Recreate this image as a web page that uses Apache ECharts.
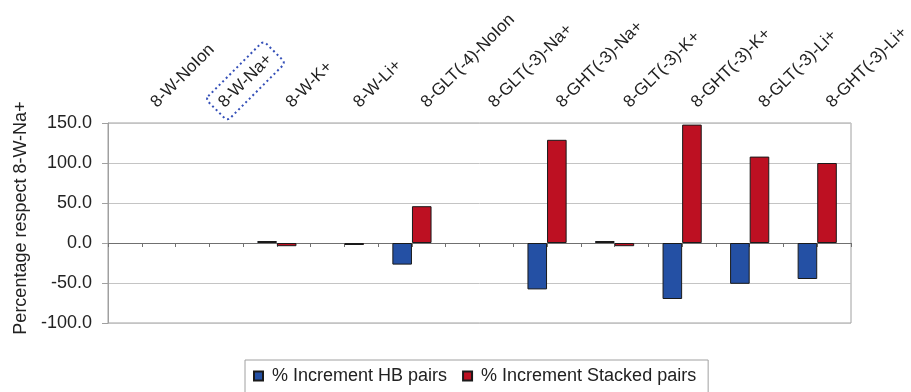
<!DOCTYPE html>
<html>
<head>
<meta charset="utf-8">
<script src="https://cdn.jsdelivr.net/npm/echarts@6/dist/echarts.min.js"></script>
<style>html,body{margin:0;padding:0;background:#fff;}#c{width:911px;height:392px;}</style>
</head>
<body>
<div id="c"></div>
<script>
var categories = ['8-W-NoIon','8-W-Na+','8-W-K+','8-W-Li+','8-GLT(-4)-NoIon','8-GLT(-3)-Na+','8-GHT(-3)-Na+','8-GLT(-3)-K+','8-GHT(-3)-K+','8-GLT(-3)-Li+','8-GHT(-3)-Li+'];
var hbPairs = [null, null, 2.5, null, -27, null, -58, 2.5, -70, -51, -45];
var stackedPairs = [null, null, -4, -2.5, 46, null, 129, -4, 148, 108, 100];
var yTicks = [-100, -50, 0, 50, 100, 150];
var seriesNames = ['% Increment HB pairs', '% Increment Stacked pairs'];
var highlighted = '8-W-Na+';

var FONT = "'Liberation Sans', Arial, sans-serif";
var FS = 18;
var CFS = 17;
var halfTicks = [];
for (var i = 0; i < categories.length * 2; i++) halfTicks.push('');

var chart = echarts.init(document.getElementById('c'), null, {renderer: 'canvas'});
chart.setOption({
  animation: false,
  backgroundColor: '#fff',
  textStyle: {fontFamily: FONT},
  grid: {left: 108, top: 123, right: 60, bottom: 69, show: true, borderColor: '#a0a0a0', borderWidth: 1,
         backgroundColor: 'transparent', outerBoundsMode: 'none', containLabel: false},
  legend: {
    left: 245, top: 360,
    data: seriesNames,
    icon: 'rect', itemWidth: 9, itemHeight: 9, itemGap: 15,
    borderColor: '#a0a0a0', borderWidth: 1,
    padding: [7, 12, 30, 8],
    textStyle: {fontFamily: FONT, fontSize: FS, color: '#222', padding: [0, 0, 0, 4]}
  },
  xAxis: [{
    type: 'category', data: categories, position: 'top',
    axisLine: {show: false, onZero: false}, axisTick: {show: false},
    splitLine: {show: false},
    axisLabel: {
      interval: 0, rotate: -45, margin: 6, fontFamily: FONT, fontSize: CFS, color: '#222',
      padding: [0, 0, 0, 10],
      formatter: function (v) { return v === highlighted ? '{box|' + v + '}' : '{n|' + v + '}'; },
      rich: {
        n: {fontFamily: FONT, fontSize: CFS, color: '#222', padding: [7, 7, 7, 7]},
        box: {fontFamily: FONT, fontSize: CFS, color: '#222', padding: [7, 7, 7, 7],
              borderColor: '#3550b8', borderWidth: 2, borderType: [2, 3], borderRadius: 4}
      }
    }
  }, {
    type: 'category', data: halfTicks, position: 'bottom', boundaryGap: true,
    axisLine: {show: true, onZero: true, onZeroAxisIndex: 0, lineStyle: {color: '#707070', width: 1}},
    axisTick: {show: true, interval: 0, length: 4, lineStyle: {color: '#707070'}},
    axisLabel: {show: false}, splitLine: {show: false}
  }],
  yAxis: {
    type: 'value', min: yTicks[0], max: yTicks[yTicks.length - 1], interval: 50,
    name: 'Percentage respect 8-W-Na+', nameLocation: 'middle', nameGap: 78,
    nameTextStyle: {fontFamily: FONT, fontSize: FS, color: '#222', padding: [0, 0, 0, 10]},
    axisLine: {show: true, lineStyle: {color: '#a0a0a0'}},
    axisTick: {show: true, length: 6, lineStyle: {color: '#a0a0a0'}},
    splitLine: {show: true, lineStyle: {color: '#c4c4c4'}},
    axisLabel: {fontFamily: FONT, fontSize: FS, color: '#222', margin: 16,
      formatter: function (v) { return v.toFixed(1); }}
  },
  series: [{
    name: seriesNames[0], type: 'bar', xAxisIndex: 0, data: hbPairs,
    barGap: '0%', barCategoryGap: '42%',
    itemStyle: {color: '#2450a4', borderColor: '#1a1a1a', borderWidth: 1}
  }, {
    name: seriesNames[1], type: 'bar', xAxisIndex: 0, data: stackedPairs,
    barGap: '0%', barCategoryGap: '42%',
    itemStyle: {color: '#bd1022', borderColor: '#1a1a1a', borderWidth: 1}
  }]
});
</script>
</body>
</html>
